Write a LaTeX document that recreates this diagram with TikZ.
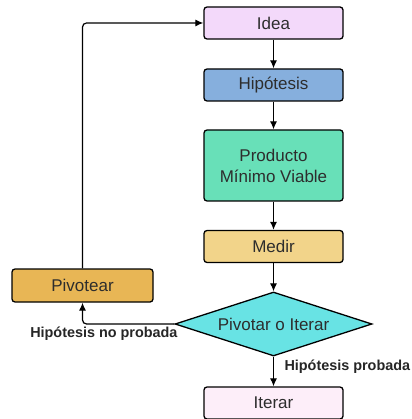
\documentclass[tikz,border=0pt]{standalone}
\usepackage{fontspec}
\setmainfont{Liberation Sans}
\usetikzlibrary{shapes.geometric,arrows.meta}

\definecolor{ideaFill}{RGB}{243,217,250}
\definecolor{hypoFill}{RGB}{134,175,221}
\definecolor{mvpFill}{RGB}{104,224,184}
\definecolor{measureFill}{RGB}{242,212,138}
\definecolor{decideFill}{RGB}{104,227,228}
\definecolor{pivotFill}{RGB}{232,182,85}
\definecolor{iterateFill}{RGB}{253,238,249}
\definecolor{textGrey}{RGB}{45,45,45}

\begin{document}
\begin{tikzpicture}[
		x=1pt, y=-1pt,
		every node/.style={text=textGrey, font=\fontsize{17}{21}\selectfont},
		stage/.style={draw=black, line width=1.3pt, rounded corners=3pt, minimum width=139pt, minimum height=32pt, align=center},
		decision/.style={diamond, draw=black, line width=1.3pt, aspect=3, minimum width=197pt, minimum height=64pt, inner sep=1pt},
		flow/.style={line width=1.2pt, -{Latex[length=8pt,width=7pt]}},
		]
		\tikzset{
			branchLabel/.style={font=\bfseries\fontsize{14.4}{17}\selectfont, text=black!85},
		}
		\useasboundingbox (0,0) rectangle (411,419);
		
		\node[stage, fill=ideaFill] (idea) at (273.5,23) {Idea};
		\node[stage, fill=hypoFill] (hypo) at (273.5,85) {Hipótesis};
		\node[stage, fill=mvpFill, minimum height=71pt] (mvp) at (273.5,165.5) {Producto\\Mínimo Viable};
		\node[stage, fill=measureFill] (measure) at (273.5,246.5) {Medir};
		\node[decision, fill=decideFill] (decide) at (273.5,324) {Pivotar o Iterar};
		\node[stage, fill=iterateFill] (iterate) at (273.5,403) {Iterar};
		\node[stage, fill=pivotFill, minimum width=141pt, minimum height=33pt] (pivot) at (82.5,285.5) {Pivotear};
		
		\draw[flow] (idea) -- (hypo);
		\draw[flow] (hypo) -- (mvp);
		\draw[flow] (mvp) -- (measure);
		\draw[flow] (measure) -- (decide);
		\draw[flow] (decide) -- (iterate);
		
		\draw[flow, rounded corners=4pt] (decide.west) -| (pivot.south);
		\draw[flow, rounded corners=4pt] (pivot.north) |- (idea.west);
		
		\node[branchLabel, anchor=east] (noProved) at (181,334) {Hipótesis no probada};
		\node[branchLabel, anchor=west] (proved) at (281,367) {Hipótesis probada};
	\end{tikzpicture}
\end{document}
